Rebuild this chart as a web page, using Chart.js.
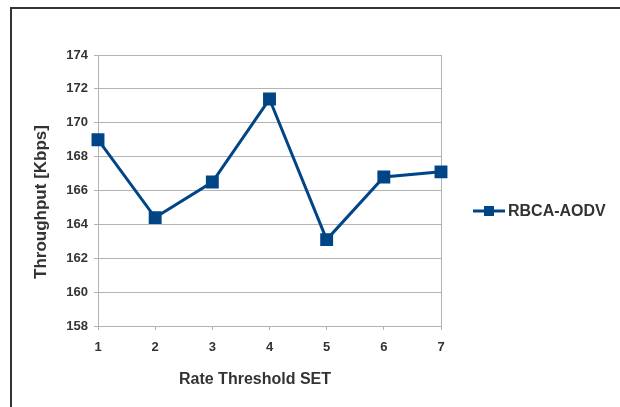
<!DOCTYPE html>
<html>
<head>
<meta charset="utf-8">
<script src="https://cdn.jsdelivr.net/npm/chart.js@4/dist/chart.umd.min.js"></script>
<style>
  body { margin: 0; background: #fff; }
  #wrap { position: relative; width: 620px; height: 407px; overflow: hidden; }
  #frame { position: absolute; left: 10px; top: 7px; width: 700px; height: 500px; border: 2px solid #333; pointer-events: none; }
</style>
</head>
<body>
<div id="wrap">
  <canvas id="chart" width="620" height="407"></canvas>
  <div id="frame"></div>
</div>
<script>
let thresholds = ["1", "2", "3", "4", "5", "6", "7"]
let throughput = [169.0, 164.4, 166.5, 171.4, 163.1, 166.8, 167.1]
let seriesName = "RBCA-AODV"
let xTitle = "Rate Threshold SET"
let yTitle = "Throughput [Kbps]"
let yMin = 158
let yMax = 174
let yStep = 2

let lineColor = "#004586"
let gridColor = "#b3b3b3"
let textColor = "#333333"
let sans = "'Liberation Sans', Arial, sans-serif"

// border round the plot area
let areaBorder = {
  id: "areaBorder",
  beforeDatasetsDraw(chart) {
    let { ctx, chartArea } = chart
    ctx.save()
    ctx.strokeStyle = gridColor
    ctx.lineWidth = 1
    ctx.strokeRect(Math.round(chartArea.left) + 0.5, Math.round(chartArea.top) + 0.5,
      Math.round(chartArea.width), Math.round(chartArea.height))
    ctx.restore()
  }
}

// axis titles, placed like the original (a bit off the axis centres)
let axisTitles = {
  id: "axisTitles",
  afterDraw(chart) {
    let ctx = chart.ctx
    ctx.save()
    ctx.fillStyle = textColor
    ctx.textAlign = "center"
    ctx.textBaseline = "middle"
    ctx.font = "bold 16px " + sans
    ctx.fillText(xTitle, 255, 380)
    ctx.translate(41, 202)
    ctx.rotate(-Math.PI / 2)
    ctx.font = "bold 17px " + sans
    ctx.fillText(yTitle, 0, 0)
    ctx.restore()
  }
}

// legend on the right: line + square + name
let sideLegend = {
  id: "sideLegend",
  afterDraw(chart) {
    let ctx = chart.ctx
    let ds = chart.data.datasets[0]
    let x = 473, y = 211
    ctx.save()
    ctx.strokeStyle = ds.borderColor
    ctx.lineWidth = 3
    ctx.beginPath()
    ctx.moveTo(x, y)
    ctx.lineTo(x + 32, y)
    ctx.stroke()
    ctx.fillStyle = ds.borderColor
    ctx.fillRect(x + 11, y - 5, 10, 10)
    ctx.fillStyle = textColor
    ctx.font = "bold 16px " + sans
    ctx.textBaseline = "middle"
    ctx.fillText(ds.label, x + 35, y + 1)
    ctx.restore()
  }
}

new Chart(document.getElementById("chart"), {
  type: "line",
  data: {
    labels: thresholds,
    datasets: [{
      label: seriesName,
      data: throughput,
      borderColor: lineColor,
      backgroundColor: lineColor,
      borderWidth: 3,
      pointStyle: "rect",
      pointRadius: 7,
      pointHoverRadius: 7,
      tension: 0
    }]
  },
  options: {
    responsive: false,
    animation: false,
    devicePixelRatio: 1,
    layout: { padding: { left: 0, top: 55, right: 179, bottom: 0 } },
    plugins: {
      legend: { display: false },
      tooltip: { enabled: false }
    },
    scales: {
      x: {
        offset: false,
        grid: { drawOnChartArea: false, drawTicks: true, tickLength: 4, color: gridColor },
        border: { color: gridColor },
        ticks: { color: textColor, padding: 10, font: { family: sans, size: 13, weight: "bold" } },
        afterFit: (s) => { s.height = 81 }
      },
      y: {
        min: yMin,
        max: yMax,
        grid: { color: gridColor, tickLength: 4 },
        border: { color: gridColor },
        ticks: { stepSize: yStep, color: textColor, padding: 6, font: { family: sans, size: 13, weight: "bold" } },
        afterFit: (s) => { s.width = 98 }
      }
    }
  },
  plugins: [areaBorder, axisTitles, sideLegend]
})
</script>
</body>
</html>
